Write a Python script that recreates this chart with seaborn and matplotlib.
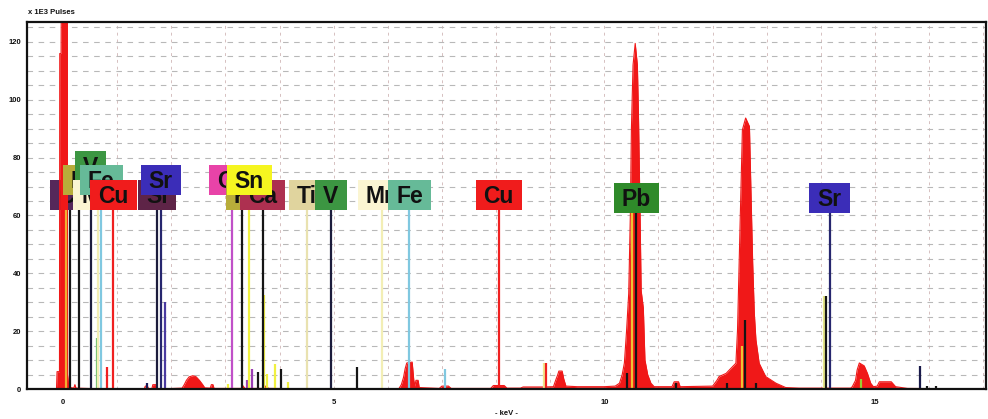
import matplotlib
matplotlib.use("Agg")
import matplotlib.pyplot as plt
import seaborn as sns
import pandas as pd
from matplotlib.patches import Rectangle
from matplotlib.ticker import MultipleLocator

# ---------------- data ----------------
energy_kev = [-0.66, -0.12, -0.11, -0.065, -0.06, -0.035, -0.03, 0.08, 0.085, 0.10, 0.14,
              0.20, 0.22, 0.24, 0.80, 1.50, 1.52, 1.56, 1.58, 1.64, 1.66, 1.72, 1.74,
              2.20, 2.24, 2.28, 2.33, 2.40, 2.46, 2.52, 2.58, 2.62, 2.72, 2.74, 2.77, 2.79,
              3.30, 3.32, 3.36, 3.70, 3.74, 3.80, 5.00,
              6.20, 6.25, 6.29, 6.32, 6.35, 6.45, 6.48, 6.50, 6.52, 6.56, 6.58,
              6.95, 7.00, 7.12, 7.17, 7.90, 7.95, 8.15, 8.20, 8.45, 8.50, 8.90,
              9.06, 9.10, 9.14, 9.16, 9.22, 9.25, 9.29, 9.50, 10.00,
              10.20, 10.28, 10.33, 10.37, 10.41, 10.45, 10.48, 10.50, 10.53, 10.57, 10.61,
              10.63, 10.66, 10.68, 10.72, 10.75, 10.80, 10.86, 10.92,
              11.25, 11.29, 11.37, 11.40, 12.00, 12.08, 12.12, 12.25, 12.31, 12.43, 12.46,
              12.49, 12.52, 12.55, 12.61, 12.68, 12.71, 12.74, 12.77, 12.80, 12.86, 12.98,
              13.17, 13.35, 13.60, 14.55, 14.58, 14.64, 14.67, 14.71, 14.80, 14.86, 14.92,
              14.97, 15.04, 15.08, 15.30, 15.38, 15.60, 17.10]
pulses_k = [0, 0, 6, 6, 116, 116, 140, 140, 5, 2, 0.5,
            0.3, 1.5, 0.3, 0, 0, 1.0, 1.0, 0, 0, 1.5, 1.5, 0,
            0.3, 1.5, 3.0, 4.2, 4.6, 4.2, 3.0, 1.5, 0.4, 0.3, 1.5, 1.5, 0.2,
            0.2, 1.2, 0.2, 0.2, 1.0, 0.2, 0,
            0, 1.5, 4, 7, 9, 9.3, 3, 1, 3, 3, 0.5,
            0.2, 1, 1, 0.2, 0.2, 1.2, 1.2, 0.3, 0.3, 0.7, 0.7,
            0.8, 3, 5, 6.2, 6.2, 3.5, 1, 0.8, 0.8,
            1, 2, 5, 9, 20, 33, 60, 90, 112, 119.5, 112,
            95, 60, 34, 28, 10, 5, 2, 0.8,
            0.8, 2.5, 2.5, 0.8, 1, 3, 4.3, 5.4, 6.6, 8.9, 20.4,
            43.5, 66.5, 89.6, 93.7, 90.8, 66.5, 43.5, 26.2, 17, 8.9, 4.3,
            2, 0.5, 0.3, 0.3, 0.8, 3, 6.6, 9, 8, 5.4, 2,
            0.8, 1, 2.5, 2.5, 0.8, 0.2, 0]

# element labels (drawn in this order, later ones on top)
label_elements = ["C", "K", "V", "Mn", "Fe", "Cu", "Si", "Sr",
                  "Cd", "K", "Ca", "Sn", "Ti", "V", "Mn", "Fe", "Cu", "Pb", "Sr"]
label_energies = [0.055, 0.30, 0.51, 0.64, 0.705, 0.93, 1.74, 1.806,
                  3.13, 3.31, 3.69, 3.44, 4.51, 4.95, 5.90, 6.40, 8.05, 10.59, 14.16]

# additional marker lines without a label box
marker_energies = [0.13, 0.63, 0.81, 1.88, 1.55, 3.04, 3.39, 3.50, 3.60, 3.72, 3.77, 3.92,
                   4.02, 4.16, 5.43, 7.06, 8.89, 8.93, 10.42, 10.51, 11.33, 12.27, 12.55,
                   12.60, 12.80, 14.06, 14.09, 14.75, 15.84, 15.96, 16.13]
marker_heights = [62, 17.5, 7.5, 30, 2, 1.7, 3, 6.9, 6, 32.5, 5.2, 8.6,
                  6.9, 2.3, 7.5, 7, 9, 9, 5.5, 61, 2, 2, 15,
                  24, 2, 32, 32, 3.5, 8, 1, 1]

x_ticks = [0, 5, 10, 15]
y_ticks = [0, 20, 40, 60, 80, 100, 120]

# ---------------- styles / layout ----------------
label_rows = ["A", "B", "C", "A", "B", "A", "A", "B",
              "B", "A", "A", "B", "A", "A", "A", "A", "A", "P", "P"]
ROW_CENTER = {"A": 67.2, "B": 72.3, "C": 77.2, "P": 66.1}
BOX_H_PX = 30
BOX_PAD_PX = 16

BOX_COLORS = {"C": "#55285a", "K": "#b8ad3a", "V": "#3c9642", "Mn": "#fbf5d2",
              "Fe": "#66ba98", "Cu": "#f01c1c", "Si": "#5e2447", "Sr": "#3b2db8",
              "Cd": "#e843a8", "Ca": "#ad3050", "Sn": "#f5f520", "Ti": "#e0d49e",
              "Pb": "#2f8a2a"}
LINE_COLORS = {"C": "#f0b030", "K": "#151515", "V": "#1c1c3c", "Mn": "#f3eeb5",
               "Fe": "#80c8e0", "Cu": "#f02020", "Si": "#1c1c3c", "Sr": "#26266e",
               "Cd": "#c050c8", "Ca": "#151515", "Sn": "#f0f040", "Ti": "#e9e2b0",
               "Pb": "#151515"}
marker_colors = ["#151515", "#6fbf6f", "#f02020", "#4a3aa0", "#1a1a5a", "#f0f040",
                 "#9b3fb5", "#9b3fb5", "#151515", "#f0f040", "#f0f040", "#f0f040",
                 "#151515", "#f0f040", "#151515", "#80c8e0", "#f0e68c", "#f02020",
                 "#151515", "#f2c232", "#151515", "#151515", "#f2c232", "#151515",
                 "#151515", "#e6e68a", "#151515", "#9acd32", "#1a1a4a", "#151515",
                 "#151515"]
SPEC_RED = "#f01818"

sns.set_theme(style="white")
plt.rcParams["font.family"] = ["Liberation Sans", "DejaVu Sans"]

W, H = 988, 419
fig = plt.figure(figsize=(W / 100, H / 100), dpi=100)
ax = fig.add_axes([27 / W, (H - 389) / H, (986 - 27) / W, (389 - 22) / H])
ax.set_xlim(-0.665, 17.05)
ax.set_ylim(0, 126.9)

# grid
ax.xaxis.set_major_locator(MultipleLocator(5))
ax.xaxis.set_minor_locator(MultipleLocator(1))
ax.yaxis.set_major_locator(MultipleLocator(20))
ax.yaxis.set_minor_locator(MultipleLocator(5))
ax.grid(True, which="both", axis="y", color="#b8b8b8", linestyle=(0, (5, 5)), linewidth=0.8)
ax.grid(True, which="both", axis="x", color="#d6c0c0", linestyle=(0, (3, 4)), linewidth=0.7)
ax.set_axisbelow(True)

# spectrum
spec = pd.DataFrame({"keV": energy_kev, "pulses": pulses_k})
ax.fill_between(spec["keV"], 0, spec["pulses"], color=SPEC_RED, linewidth=0, zorder=3)
sns.lineplot(data=spec, x="keV", y="pulses", color=SPEC_RED, linewidth=0.8,
             sort=False, estimator=None, ax=ax, zorder=3)

# marker lines
ax.vlines(marker_energies, 0, marker_heights, colors=marker_colors, linewidth=1.6, zorder=4)

fig.canvas.draw()
renderer = fig.canvas.get_renderer()
px_per_kev = ax.transData.transform((1, 0))[0] - ax.transData.transform((0, 0))[0]
px_per_cnt = ax.transData.transform((0, 1))[1] - ax.transData.transform((0, 0))[1]
box_h = BOX_H_PX / px_per_cnt
FS = 16.5
cap_h = 0.716 * FS * 100 / 72 / px_per_cnt

for i, (el, e, row) in enumerate(zip(label_elements, label_energies, label_rows)):
    yc = ROW_CENTER[row]
    z = 5 + i * 0.1
    if el == "C":
        z = 2.5
    ax.vlines([e], 0, yc - box_h / 2, colors=[LINE_COLORS[el]], linewidth=1.6, zorder=4)
    t = ax.text(e, yc - cap_h / 2, el, ha="center", va="baseline", fontsize=FS,
                fontweight="bold", color="#111111", zorder=z + 0.05)
    w_px = t.get_window_extent(renderer).width + BOX_PAD_PX
    w = w_px / px_per_kev
    ax.add_patch(Rectangle((e - w / 2, yc - box_h / 2), w, box_h, facecolor=BOX_COLORS[el],
                           edgecolor="none", zorder=z))

# axes styling
ax.set_xticks(x_ticks)
ax.set_yticks(y_ticks)
ax.set_xticklabels([str(v) for v in x_ticks])
ax.set_yticklabels([str(v) for v in y_ticks])
ax.tick_params(axis="x", which="major", direction="out", length=5, width=1.3, pad=2,
               labelsize=5.5, colors="#111111")
ax.tick_params(axis="x", which="minor", length=0)
ax.tick_params(axis="y", which="both", direction="inout", length=5, width=1.0, pad=1.5,
               labelsize=5.5, colors="#111111")
for lab in ax.get_xticklabels() + ax.get_yticklabels():
    lab.set_fontweight("bold")
for s in ax.spines.values():
    s.set_visible(True)
    s.set_color("#111111")
    s.set_linewidth(1.6)
    s.set_zorder(10)
ax.set_xlabel("")
ax.set_ylabel("")

fig.text(28 / W, 1 - 13 / H, "x 1E3 Pulses", fontsize=5.5, fontweight="bold",
         ha="left", va="center", color="#111111")
fig.text(506 / W, 1 - 413 / H, "- keV -", fontsize=5.5, fontweight="bold",
         ha="center", va="center", color="#111111")

fig.savefig("out.png", dpi=100, facecolor="white")
